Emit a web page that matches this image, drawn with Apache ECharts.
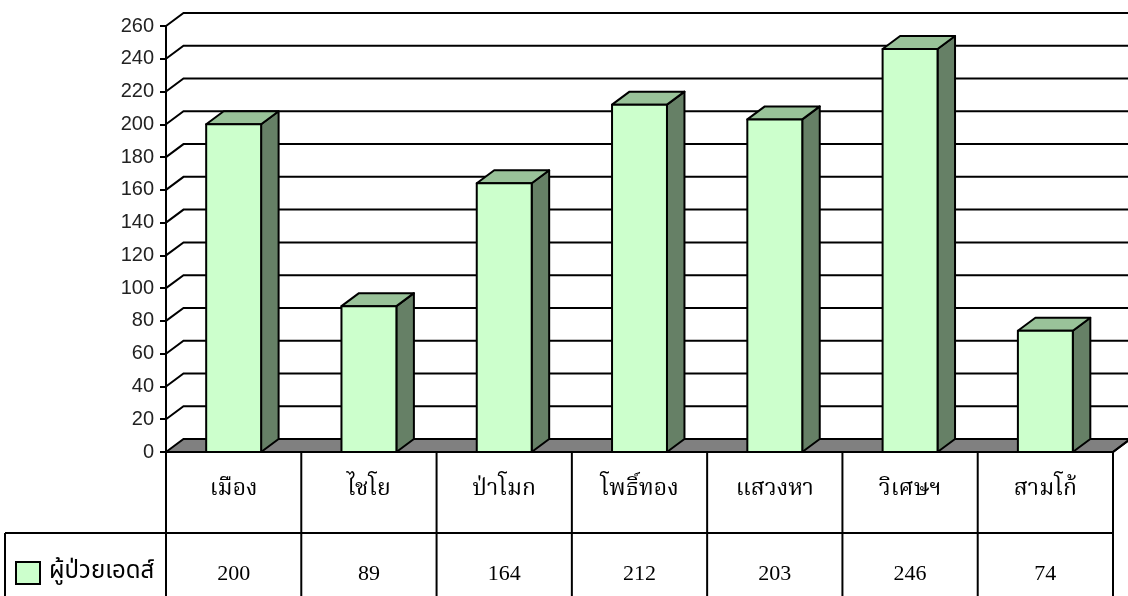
<!DOCTYPE html>
<html>
<head>
<meta charset="utf-8">
<script src="https://cdn.jsdelivr.net/npm/echarts@6/dist/echarts.min.js"></script>
<style>
html,body{margin:0;padding:0;background:#fff;}
#chart{width:1128px;height:596px;}
</style>
</head>
<body>
<div id="chart"></div>
<script>
// ---- data ----
const categories = ['เมือง', 'ไชโย', 'ป่าโมก', 'โพธิ์ทอง', 'แสวงหา', 'วิเศษฯ', 'สามโก้'];
const patients = [200, 89, 164, 212, 203, 246, 74];
const yTicks = [0, 20, 40, 60, 80, 100, 120, 140, 160, 180, 200, 220, 240, 260];
const seriesName = 'ผู้ป่วยเอดส์';

// ---- style constants ----
const DX = 17.5, DY = -13;
const TABLE_MID = 533, TABLE_LEFT = 5, TABLE_BOTTOM = 620;
const thaiSerif = '"Noto Serif Thai", "Liberation Serif", "DejaVu Serif", serif';
const thaiSans = '"Noto Sans Thai", "Noto Sans", "DejaVu Sans", sans-serif';

const chart = echarts.init(document.getElementById('chart'));

const lineStyle = { stroke: '#000', lineWidth: 2, fill: null };

chart.setOption({
  animation: false,
  backgroundColor: '#fff',
  grid: { left: 166, right: 15, top: 26, bottom: 144, containLabel: false },
  legend: {
    left: 15, top: 561, padding: 0,
    itemWidth: 24, itemHeight: 22, itemGap: 6,
    icon: 'rect',
    data: [seriesName],
    itemStyle: { color: '#CCFFCC', borderColor: '#000', borderWidth: 2 },
    textStyle: { fontSize: 24, color: '#000', fontFamily: thaiSans, padding: [0, 0, 0, 4] }
  },
  xAxis: {
    type: 'category',
    data: categories,
    axisLine: { show: false },
    axisTick: { show: false },
    axisLabel: { margin: 28, fontSize: 23, color: '#000', fontFamily: thaiSerif },
    splitLine: { show: false }
  },
  yAxis: {
    type: 'value',
    min: 0, max: 260, interval: 20,
    axisLine: { show: true, lineStyle: { color: '#000', width: 2 } },
    axisTick: { show: true, length: 6, lineStyle: { color: '#000', width: 2 } },
    axisLabel: { margin: 12, fontSize: 20, color: '#222', fontFamily: '"Liberation Sans", Arial, sans-serif' },
    splitLine: { show: false }
  },
  series: [
    {
      // back wall gridlines, left wall diagonals, floor
      type: 'custom',
      silent: true,
      z: 1,
      data: yTicks.map(v => [0, v]),
      renderItem: function (params, api) {
        const cs = params.coordSys;
        const y = api.coord([0, api.value(1)])[1];
        const x0 = cs.x, x1 = cs.x + cs.width;
        if (api.value(1) === 0) {
          return {
            type: 'polygon',
            shape: { points: [[x0, y], [x0 + DX, y + DY], [x1 + DX, y + DY], [x1, y]] },
            style: { fill: '#808080', stroke: '#000', lineWidth: 2 }
          };
        }
        return {
          type: 'polyline',
          shape: { points: [[x0, y], [x0 + DX, y + DY], [x1 + DX + 30, y + DY]] },
          style: lineStyle
        };
      }
    },
    {
      name: seriesName,
      type: 'custom',
      z: 3,
      itemStyle: { color: '#CCFFCC', borderColor: '#000', borderWidth: 2 },
      data: patients.map((v, i) => [i, v]),
      renderItem: function (params, api) {
        const i = api.value(0), v = api.value(1);
        const c = api.coord([i, v]);
        const base = api.coord([i, 0])[1];
        const w = api.size([1, 0])[0] * 0.406;
        const xl = c[0] - w / 2, xr = c[0] + w / 2, top = c[1];
        const st = { stroke: '#000', lineWidth: 2, lineJoin: 'round' };
        return {
          type: 'group',
          children: [
            { type: 'polygon', shape: { points: [[xr, top], [xr + DX, top + DY], [xr + DX, base + DY], [xr, base]] },
              style: Object.assign({ fill: '#668066' }, st) },
            { type: 'polygon', shape: { points: [[xl, top], [xl + DX, top + DY], [xr + DX, top + DY], [xr, top]] },
              style: Object.assign({ fill: '#99C299' }, st) },
            { type: 'rect', shape: { x: xl, y: top, width: w, height: base - top },
              style: Object.assign({ fill: '#CCFFCC' }, st) }
          ]
        };
      }
    },
    {
      // data table below the plot
      type: 'custom',
      silent: true,
      z: 4,
      data: patients.map((v, i) => [i, v]),
      renderItem: function (params, api) {
        const cs = params.coordSys;
        const i = api.value(0), v = api.value(1);
        const cx = api.coord([i, 0])[0];
        const base = api.coord([i, 0])[1];
        const bw = api.size([1, 0])[0];
        const children = [
          { type: 'line', shape: { x1: cx + bw / 2, y1: base, x2: cx + bw / 2, y2: TABLE_BOTTOM }, style: lineStyle },
          { type: 'text', style: { text: String(v), x: cx, y: 574, align: 'center', verticalAlign: 'middle',
              fontSize: 22, fill: '#000', fontFamily: '"Liberation Serif", "Times New Roman", serif' } }
        ];
        if (i === 0) {
          const x0 = cs.x, x1 = cs.x + cs.width;
          children.push(
            { type: 'line', shape: { x1: x0, y1: base, x2: x1, y2: base }, style: lineStyle },
            { type: 'line', shape: { x1: x0, y1: base, x2: x0, y2: TABLE_BOTTOM }, style: lineStyle },
            { type: 'line', shape: { x1: TABLE_LEFT, y1: TABLE_MID, x2: x1, y2: TABLE_MID }, style: lineStyle },
            { type: 'line', shape: { x1: TABLE_LEFT, y1: TABLE_MID, x2: TABLE_LEFT, y2: TABLE_BOTTOM }, style: lineStyle },
            { type: 'line', shape: { x1: x1, y1: base, x2: x1 + DX, y2: base + DY }, style: lineStyle }
          );
        }
        return { type: 'group', children: children };
      }
    }
  ]
});
</script>
</body>
</html>
